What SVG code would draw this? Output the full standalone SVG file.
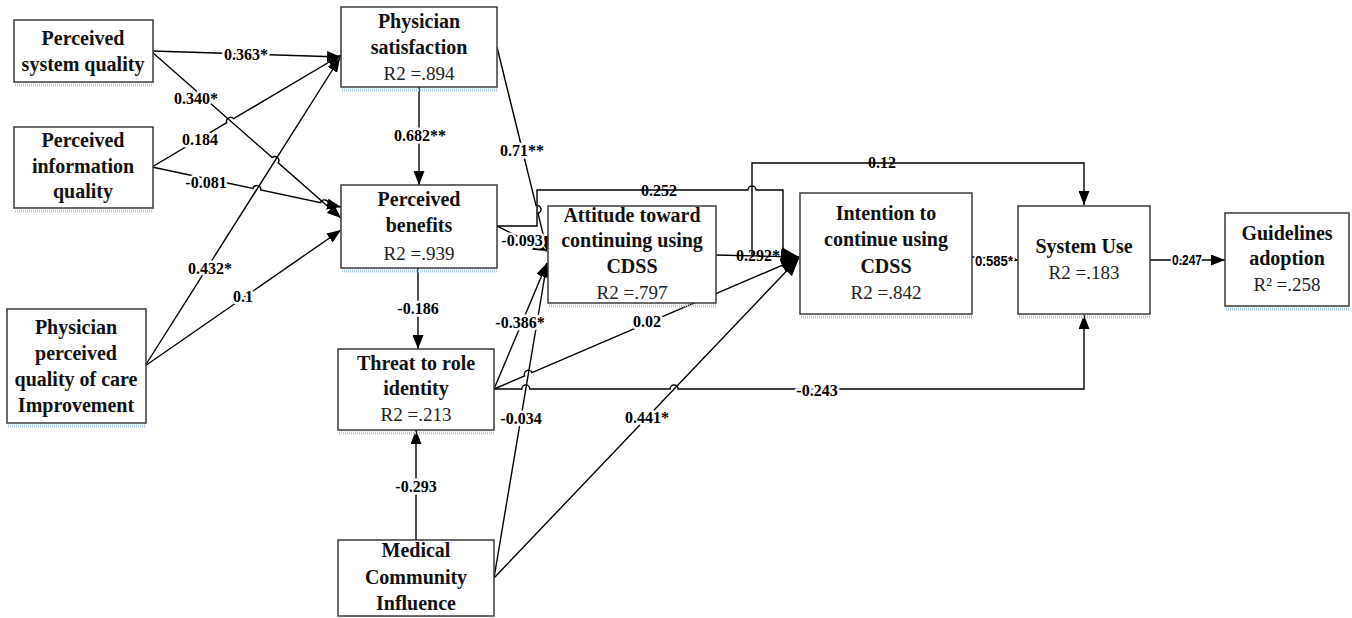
<svg xmlns="http://www.w3.org/2000/svg" width="1352" height="618" viewBox="0 0 1352 618">
<defs>
<marker id="a" markerUnits="userSpaceOnUse" markerWidth="14" markerHeight="11" refX="14" refY="5.5" orient="auto"><path d="M0,0 L14,5.5 L0,11 z" fill="#000"/></marker>
<marker id="aL" markerUnits="userSpaceOnUse" markerWidth="18" markerHeight="15" refX="18" refY="7.5" orient="auto"><path d="M0,0 L18,7.5 L0,15 z" fill="#000"/></marker>
<marker id="aS" markerUnits="userSpaceOnUse" markerWidth="6" markerHeight="6" refX="6" refY="3" orient="auto"><path d="M0,0 L6,3 L0,6 z" fill="#000"/></marker>
</defs>
<style>
.box{fill:#fff;stroke:#3a3a3a;stroke-width:1.5}
.sh{stroke:#aecbe9;stroke-width:3;stroke-dasharray:1 1}
.t{font-family:"Liberation Serif",serif;font-weight:bold;font-size:20px;fill:#111;text-anchor:middle}
.r{font-family:"Liberation Serif",serif;font-size:19px;fill:#222;text-anchor:middle}
.e{fill:none;stroke:#000;stroke-width:1.4}
.l{font-family:"Liberation Serif",serif;font-weight:bold;font-size:16px;fill:#000;text-anchor:middle;paint-order:stroke;stroke:#fff;stroke-width:5;stroke-linejoin:round}
.ln{font-family:"Liberation Serif",serif;font-weight:bold;font-size:16px;fill:#000;text-anchor:middle}
.ls{font-family:"Liberation Sans",sans-serif;font-weight:bold;font-size:15px;fill:#000;text-anchor:middle;paint-order:stroke;stroke:#fff;stroke-width:4;stroke-linejoin:round}
</style>
<rect width="1352" height="618" fill="#fff"/>

<g id="connectors">
<path class="e" d="M152,51 L341,57" marker-end="url(#a)"/>
<path class="e" d="M152,52 L272.2,157.6 A4,4 0 0 1 278.2,162.8 L341,218" marker-end="url(#a)"/>
<path class="e" d="M152,167 L226.8,122.7 A4,4 0 0 1 233.6,118.7 L341,55" marker-end="url(#a)"/>
<path class="e" d="M152,167 L253,188.4 A4,4 0 0 1 260.8,190 L320.6,202.7 A4,4 0 0 1 328.4,204.3 L341,207" marker-end="url(#a)"/>
<path class="e" d="M145,366 L340,58" marker-end="url(#a)"/>
<path class="e" d="M145,366 L341,230" marker-end="url(#a)"/>
<path class="e" d="M419,87 V185" marker-end="url(#a)"/>
<path class="e" d="M418,268 V349" marker-end="url(#a)"/>
<path class="e" d="M416,540 V430" marker-end="url(#a)"/>
<path class="e" d="M497,47 L536,205.5 A4,4 0 0 1 538,213.3 L547,250" marker-end="url(#a)"/>
<path class="e" d="M497,226 L547,251" marker-end="url(#a)"/>
<path class="e" d="M494,389 L547,263" marker-end="url(#a)"/>
<path class="e" d="M494,578 L547,263" marker-end="url(#a)"/>
<path class="e" d="M497,226 H537 V190 H748 A4,4 0 0 1 756,190 H783 V255 L799,257" marker-end="url(#aL)"/>
<path class="e" d="M716,255 L799,257" marker-end="url(#aL)"/>
<path class="e" d="M752,255 V163 H1084 V205" marker-end="url(#a)"/>
<path class="e" d="M494,389 L524.6,375.9 A4,4 0 0 1 532,372.7 L799,258" marker-end="url(#aL)"/>
<path class="e" d="M494,578 L799,258" marker-end="url(#aL)"/>
<path class="e" d="M494,389 H521.8 A4,4 0 0 1 529.8,389 H670.1 A4,4 0 0 1 678.1,389 H1084 V315" marker-end="url(#a)"/>
<path class="e" d="M972,257 L1018,260" marker-end="url(#aS)"/>
<path class="e" d="M1150,260 H1225" marker-end="url(#a)"/>
</g>

<g id="n-psq">
<rect class="box" x="14" y="20" width="139" height="62"/>
<line class="sh" x1="15" y1="85" x2="153" y2="85"/>
<text class="t" x="83" y="45">Perceived</text>
<text class="t" x="83" y="71">system quality</text>
</g>
<g id="n-piq">
<rect class="box" x="14" y="127" width="139" height="81"/>
<line class="sh" x1="15" y1="211" x2="153" y2="211"/>
<text class="t" x="83" y="147">Perceived</text>
<text class="t" x="83" y="173">information</text>
<text class="t" x="83" y="198">quality</text>
</g>
<g id="n-ppqc">
<rect class="box" x="7" y="309" width="139" height="114"/>
<line class="sh" x1="8" y1="426" x2="146" y2="426"/>
<text class="t" x="76" y="334">Physician</text>
<text class="t" x="76" y="360">perceived</text>
<text class="t" x="76" y="386">quality of care</text>
<text class="t" x="76" y="412">Improvement</text>
</g>
<g id="n-ps">
<rect class="box" x="341" y="7" width="156" height="80"/>
<line class="sh" x1="342" y1="90" x2="497" y2="90"/>
<text class="t" x="419" y="28">Physician</text>
<text class="t" x="419" y="54">satisfaction</text>
<text class="r" x="419" y="80">R2 =.894</text>
</g>
<g id="n-pb">
<rect class="box" x="341" y="185" width="156" height="83"/>
<line class="sh" x1="342" y1="271" x2="497" y2="271"/>
<text class="t" x="419" y="206">Perceived</text>
<text class="t" x="419" y="232">benefits</text>
<text class="r" x="419" y="260">R2 =.939</text>
</g>
<g id="n-threat">
<rect class="box" x="338" y="349" width="156" height="81"/>
<line class="sh" x1="339" y1="433" x2="494" y2="433"/>
<text class="t" x="416" y="370">Threat to role</text>
<text class="t" x="416" y="395">identity</text>
<text class="r" x="416" y="421">R2 =.213</text>
</g>
<g id="n-mci">
<rect class="box" x="338" y="540" width="156" height="76"/>
<text class="t" x="416" y="557">Medical</text>
<text class="t" x="416" y="584">Community</text>
<text class="t" x="416" y="610">Influence</text>
</g>
<g id="n-att">
<rect class="box" x="548" y="206" width="168" height="97"/>
<line class="sh" x1="549" y1="306" x2="716" y2="306"/>
<text class="t" x="632" y="222">Attitude toward</text>
<text class="t" x="632" y="247">continuing using</text>
<text class="t" x="632" y="273">CDSS</text>
<text class="r" x="632" y="299">R2 =.797</text>
</g>
<g id="n-int">
<rect class="box" x="800" y="193" width="172" height="121"/>
<line class="sh" x1="801" y1="317" x2="973" y2="317"/>
<text class="t" x="886" y="220">Intention to</text>
<text class="t" x="886" y="246">continue using</text>
<text class="t" x="886" y="273">CDSS</text>
<text class="r" x="886" y="299">R2 =.842</text>
</g>
<g id="n-use">
<rect class="box" x="1018" y="206" width="132" height="108"/>
<line class="sh" x1="1019" y1="317" x2="1151" y2="317"/>
<text class="t" x="1084" y="253">System Use</text>
<text class="r" x="1084" y="279">R2 =.183</text>
</g>
<g id="n-gl">
<rect class="box" x="1225" y="213" width="124" height="93"/>
<line class="sh" x1="1226" y1="309" x2="1349" y2="309"/>
<text class="t" x="1287" y="240">Guidelines</text>
<text class="t" x="1287" y="265">adoption</text>
<text class="r" x="1287" y="291">R² =.258</text>
</g>

<g id="edge-labels">
<text class="l" x="246" y="60">0.363*</text>
<text class="l" x="196" y="104">0.340*</text>
<text class="l" x="200" y="145">0.184</text>
<text class="l" x="206" y="188">-0.081</text>
<text class="l" x="210" y="274">0.432*</text>
<text class="l" x="243" y="302">0.1</text>
<text class="l" x="420" y="141">0.682**</text>
<text class="l" x="522" y="156">0.71**</text>
<text class="l" x="418" y="314">-0.186</text>
<text class="l" x="416" y="492">-0.293</text>
<text class="ln" x="659" y="196">0.252</text>
<text class="l" x="522" y="246">-0.093</text>
<text class="ln" x="758" y="261">0.292*</text>
<text class="ln" x="882" y="168">0.12</text>
<text class="l" x="520" y="328">-0.386*</text>
<text class="l" x="647" y="327">0.02</text>
<text class="l" x="521" y="424">-0.034</text>
<text class="l" x="647" y="423">0.441*</text>
<text class="l" x="817" y="396">-0.243</text>
<text class="ls" x="994" y="266" textLength="38" lengthAdjust="spacingAndGlyphs">0.585*</text>
<text class="ls" x="1187" y="265" textLength="30" lengthAdjust="spacingAndGlyphs">0.247</text>
</g>
</svg>
